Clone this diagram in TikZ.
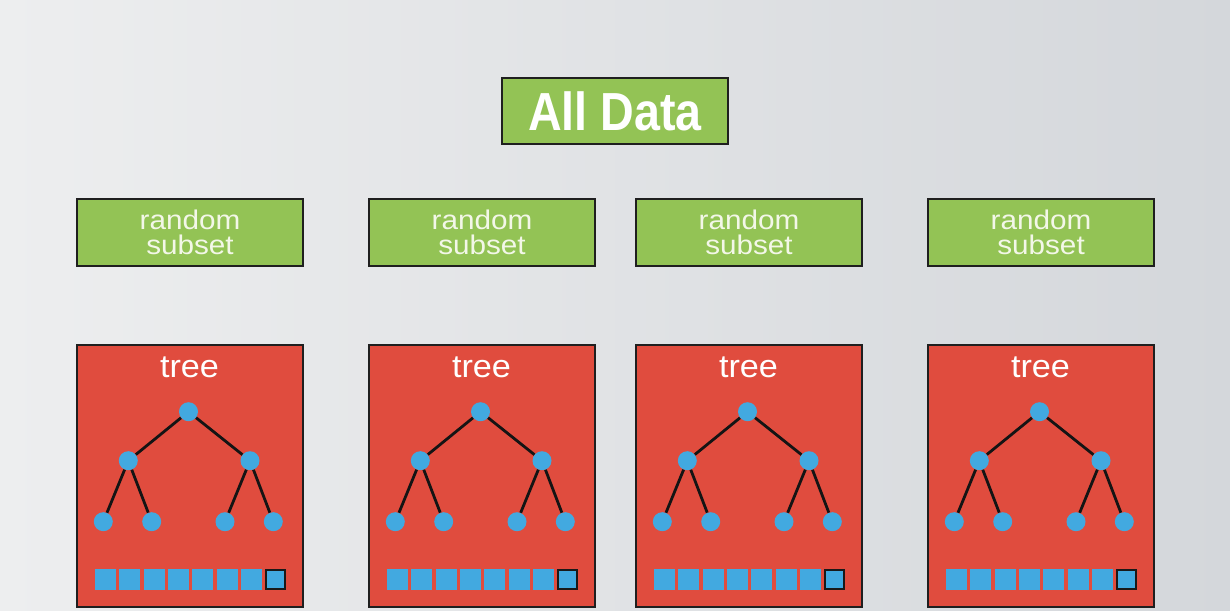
\documentclass[tikz,border=0pt]{standalone}
\usepackage{fontspec}
\setmainfont{Liberation Sans}
\definecolor{dgreen}{HTML}{93C355}
\definecolor{dred}{HTML}{E04C3E}
\definecolor{dblue}{HTML}{42A9E0}
\definecolor{bgl}{HTML}{EDEEEF}
\definecolor{bgr}{HTML}{D4D7DB}
\definecolor{ltxt}{HTML}{F3F7E8}
\begin{document}
\begin{tikzpicture}[x=1pt,y=-1pt,
  boxline/.style={draw=black!88, line width=1.8pt},
  databox/.style={boxline, fill=dgreen, minimum width=226pt, minimum height=66pt, inner sep=0pt,
    text=white, font=\fontsize{53.6}{56}\selectfont\bfseries},
  subbox/.style={boxline, fill=dgreen, minimum width=226pt, minimum height=67pt, inner sep=0pt,
    text=ltxt, align=center, font=\fontsize{27}{24.5}\selectfont},
  treebox/.style={boxline, fill=dred, minimum width=226pt, minimum height=262pt, inner sep=0pt},
  treelabel/.style={text=white, inner sep=0pt, font=\fontsize{32}{34}\selectfont},
  tnode/.style={circle, fill=dblue, minimum size=19pt, inner sep=0pt},
  edge/.style={line width=2.8pt, black!92},
  sq/.style={fill=dblue, minimum size=21pt, inner sep=0pt},
  lastsq/.style={draw=black!90, line width=2pt, minimum size=19pt}
]
\shade[left color=bgl, right color=bgr] (0,0) rectangle (1230,610);
\useasboundingbox (0,0) rectangle (1230,610);
\node[databox] (all) at (615,111) {\scalebox{0.87}[1]{All Data}};
\foreach \i/\bx in {1/77,2/369,3/636,4/928} {
  \node[subbox] (s\i) at (\bx+113,232.5) {\scalebox{1.1}[1]{random}\\\scalebox{1.1}[1]{subset}};
  \node[treebox] (t\i) at (\bx+113,476) {};
  \node[treelabel, anchor=base] (tl\i) at (\bx+112.5,377) {\scalebox{1.07}[1]{tree}};
  \node[tnode] (r\i) at (\bx+111.5,411.7) {};
  \node[tnode] (ml\i) at (\bx+51.3,460.7) {};
  \node[tnode] (mr\i) at (\bx+173,460.7) {};
  \node[tnode] (la\i) at (\bx+26.3,521.7) {};
  \node[tnode] (lb\i) at (\bx+74.7,521.7) {};
  \node[tnode] (lc\i) at (\bx+148,521.7) {};
  \node[tnode] (ld\i) at (\bx+196.3,521.7) {};
  \draw[edge] (r\i) -- (ml\i);
  \draw[edge] (r\i) -- (mr\i);
  \draw[edge] (ml\i) -- (la\i);
  \draw[edge] (ml\i) -- (lb\i);
  \draw[edge] (mr\i) -- (lc\i);
  \draw[edge] (mr\i) -- (ld\i);
  \foreach \k in {0,...,6} {
    \node[sq] (q\i-\k) at (\bx+28.5+24.3*\k,579) {};
  }
  \node[sq, lastsq] (q\i-7) at (\bx+28.5+24.3*7,579) {};
}
\end{tikzpicture}
\end{document}
